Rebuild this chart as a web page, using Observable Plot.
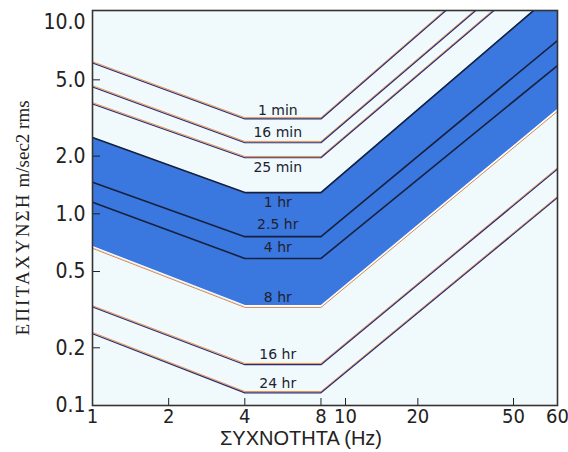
<!DOCTYPE html>
<html><head><meta charset="utf-8">
<script src="https://cdn.jsdelivr.net/npm/d3@7"></script>
<script src="https://cdn.jsdelivr.net/npm/@observablehq/plot@0.6"></script>
<style>body{margin:0;background:#fff}</style>
</head><body><div id="chart"></div>
<script>
// Exposure-duration curves (acceleration vs frequency)
const durations = ["1 min", "16 min", "25 min", "1 hr", "2.5 hr", "4 hr", "8 hr", "16 hr", "24 hr"];
const kneeFreqs = [1, 4, 8, 60];                                   // Hz
const acc1Hz   = [6.15, 4.61, 3.76, 2.50, 1.46, 1.15, 0.667, 0.328, 0.238];
const accFlat  = [3.14, 2.36, 1.97, 1.29, 0.76, 0.585, 0.328, 0.164, 0.117]; // 4–8 Hz
const acc60Hz  = [36.9, 26.7, 22.1, 14.7, 8.02, 5.94, 3.46, 1.72, 1.22];
const labelAcc = [3.46, 2.66, 1.74, 1.15, 0.88, 0.667, 0.366, 0.185, 0.130];
const labelFreq = 5.4;
const bandDurations = ["1 hr", "2.5 hr", "4 hr", "8 hr"];
const bandTop = "1 hr", bandBottom = "8 hr";
const xTicks = [1, 2, 4, 8, 10, 20, 50, 60];
const yTicks = [0.1, 0.2, 0.5, 1, 2, 5, 10];
const xLabel = "ΣΥΧΝΟΤΗΤΑ (Hz)";
const yLabelParts = ["ΕΠΙΤΑΧΥΝΣΗ", " m/sec2 rms"];
const yLabel = yLabelParts.join("");

const curveVals = i => [acc1Hz[i], accFlat[i], accFlat[i], acc60Hz[i]];
const rows = durations.flatMap((d, i) => kneeFreqs.map((f, k) => ({duration: d, f, a: curveVals(i)[k]})));
const outer = rows.filter(r => !bandDurations.includes(r.duration));
const inner = rows.filter(r => bandDurations.includes(r.duration) && r.duration !== bandBottom);
const bottom = rows.filter(r => r.duration === bandBottom);
const iTop = durations.indexOf(bandTop), iBot = durations.indexOf(bandBottom);
const band = kneeFreqs.map((f, k) => ({f, lo: curveVals(iBot)[k], hi: curveVals(iTop)[k]}));
const labels = durations.map((d, i) => ({duration: d, f: labelFreq, a: labelAcc[i]}));

const tickFont = "'DejaVu Sans Condensed', 'DejaVu Sans', sans-serif";

const chart = Plot.plot({
  width: 568,
  height: 452,
  marginLeft: 92,
  marginRight: 11,
  marginTop: 10,
  marginBottom: 47,
  style: {background: "#fff", color: "#222", overflow: "visible"},
  x: {type: "log", domain: [1, 10, 50, 60], range: [92, 345, 513, 557]},
  y: {type: "log", domain: [0.1, 11.5], range: [405, 10]},
  marks: [
    Plot.frame({fill: "#f0fafd"}),
    Plot.areaY(band, {x: "f", y1: "lo", y2: "hi", fill: "#3a77df", clip: true}),
    Plot.line(outer, {x: "f", y: "a", z: "duration", stroke: "#e8914a", strokeWidth: 1, dy: -0.9, clip: true}),
    Plot.line(outer, {x: "f", y: "a", z: "duration", stroke: "#2e2a6e", strokeWidth: 1.2, dy: 0.4, clip: true}),
    Plot.line(inner, {x: "f", y: "a", z: "duration", stroke: "#17213d", strokeWidth: 1.6, clip: true}),
    Plot.line(bottom, {x: "f", y: "a", stroke: "#ffffff", strokeWidth: 1.4, dy: -0.9, clip: true}),
    Plot.line(bottom, {x: "f", y: "a", stroke: "#d9884a", strokeWidth: 1, dy: 0.8, clip: true}),
    Plot.text(labels, {x: "f", y: "a", text: "duration", fontSize: 14, fontFamily: "'DejaVu Sans', sans-serif", fill: "#22222e"}),
    Plot.axisX(xTicks.slice(1, -1), {tickSize: 7, dy: -7, tickFormat: () => "", label: null, stroke: "#222"}),
    Plot.axisY(yTicks.slice(1, -1), {tickSize: 8, dx: 8, tickFormat: () => "", label: null, stroke: "#222"}),
    Plot.text(xTicks, {x: d => d, text: d => String(d), frameAnchor: "bottom", lineAnchor: "top", dy: 3, fontSize: 20, fontFamily: tickFont, fill: "#222"}),
    Plot.axisY(yTicks, {tickSize: 0, tickPadding: 7, tickFormat: d => d.toFixed(1), fontSize: 21, fontFamily: tickFont, label: null}),
    Plot.text([xLabel], {text: d => d, frameAnchor: "bottom", dy: 39, dx: -24, fontSize: 20, fontFamily: "'Liberation Sans', Arial, sans-serif", fill: "#222"}),
    Plot.text([yLabel], {text: d => d, frameAnchor: "left", textAnchor: "middle", dx: -70, dy: 10, rotate: -90, fontSize: 19, fontFamily: "'Liberation Serif', 'Times New Roman', serif", fill: "#222"}),
    Plot.frame({stroke: "#333", strokeWidth: 1.6})
  ]
});
const yl = d3.select(chart).selectAll("text").filter(function() { return this.textContent === yLabel; });
yl.text(null);
yl.append("tspan").attr("letter-spacing", 2.2).text(yLabelParts[0]);
yl.append("tspan").text(yLabelParts[1]);
document.getElementById("chart").appendChild(chart);
</script>
</body></html>
